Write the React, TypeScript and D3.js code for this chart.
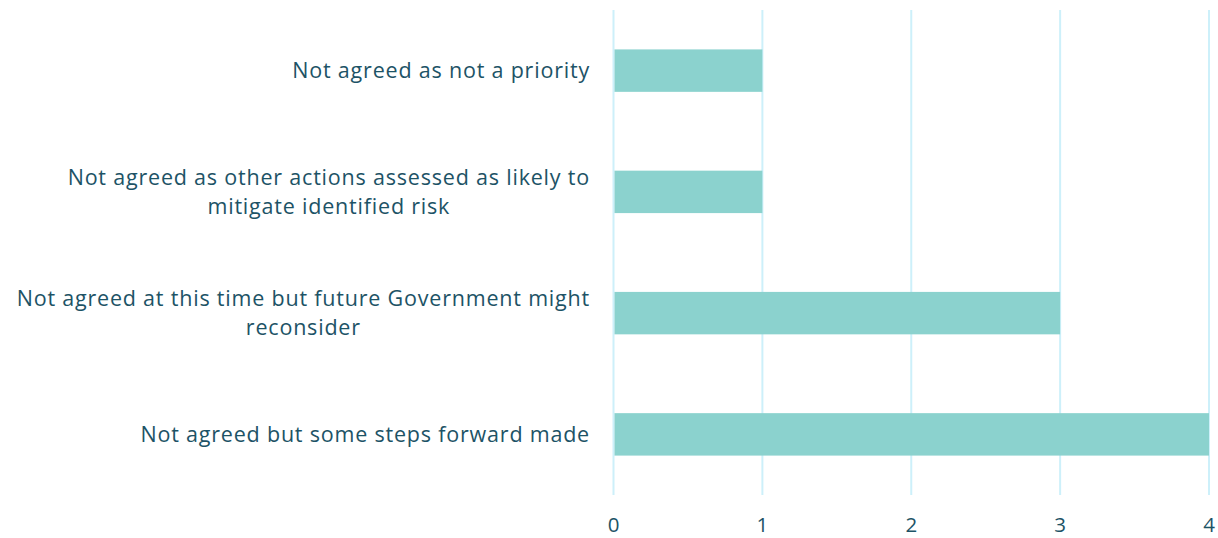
import React, { useEffect, useRef } from "react";
import * as d3 from "d3";

const categories: string[][] = [
  ["Not agreed as not a priority"],
  ["Not agreed as other actions assessed as likely to", "mitigate identified risk"],
  ["Not agreed at this time but future Government might", "reconsider"],
  ["Not agreed but some steps forward made"],
];
const values: number[] = [1, 1, 3, 4];
const ticks: number[] = [0, 1, 2, 3, 4];

const W = 1218;
const H = 538;
const TEXT = "#1d5366";
const BAR = "#8bd2ce";
const GRID = "#cdf0fa";
const FONT = "'Open Sans', Lato, sans-serif";

export default function App() {
  const ref = useRef<SVGSVGElement>(null);

  useEffect(() => {
    const svg = d3.select(ref.current);
    svg.selectAll("*").remove();

    const x = d3.scaleLinear().domain([0, 4]).range([613.5, 1209]);
    const y = d3
      .scaleBand<number>()
      .domain(d3.range(categories.length))
      .range([10, 495])
      .paddingInner(0.65)
      .paddingOuter(0.325);

    // vertical gridlines
    svg
      .append("g")
      .selectAll("line")
      .data(ticks)
      .join("line")
      .attr("x1", (d) => x(d))
      .attr("x2", (d) => x(d))
      .attr("y1", 10)
      .attr("y2", 495)
      .attr("stroke", GRID)
      .attr("stroke-width", 2);

    // bars
    svg
      .append("g")
      .selectAll("rect")
      .data(values)
      .join("rect")
      .attr("x", x(0) + 1)
      .attr("y", (_, i) => y(i)!)
      .attr("width", (d) => x(d) - x(0) - 1)
      .attr("height", y.bandwidth())
      .attr("fill", BAR);

    // x tick labels
    svg
      .append("g")
      .selectAll("text")
      .data(ticks)
      .join("text")
      .attr("x", (d) => x(d))
      .attr("y", 532)
      .attr("text-anchor", "middle")
      .attr("font-family", FONT)
      .attr("font-size", 20.5)
      .attr("fill", TEXT)
      .text((d) => String(d));

    // category labels: block right-aligned, lines centred within the block
    const lineH = 29;
    const labelRight = 590;
    categories.forEach((lines, i) => {
      const cy = y(i)! + y.bandwidth() / 2;
      const g = svg.append("g");
      const texts = lines.map((line, j) =>
        g
          .append("text")
          .attr("y", cy + (j - (lines.length - 1) / 2) * lineH)
          .attr("dy", "0.35em")
          .attr("font-family", FONT)
          .attr("font-size", 21.5)
          .attr("letter-spacing", "0.8px")
          .attr("fill", TEXT)
          .attr("text-anchor", "middle")
          .text(line)
      );
      const maxW = d3.max(texts, (t) => (t.node() as SVGTextElement).getComputedTextLength()) || 0;
      texts.forEach((t) => t.attr("x", labelRight - maxW / 2));
    });
  }, []);

  return (
    <svg
      ref={ref}
      width={W}
      height={H}
      style={{ position: "absolute", left: 0, top: 0, background: "#fff" }}
    />
  );
}
